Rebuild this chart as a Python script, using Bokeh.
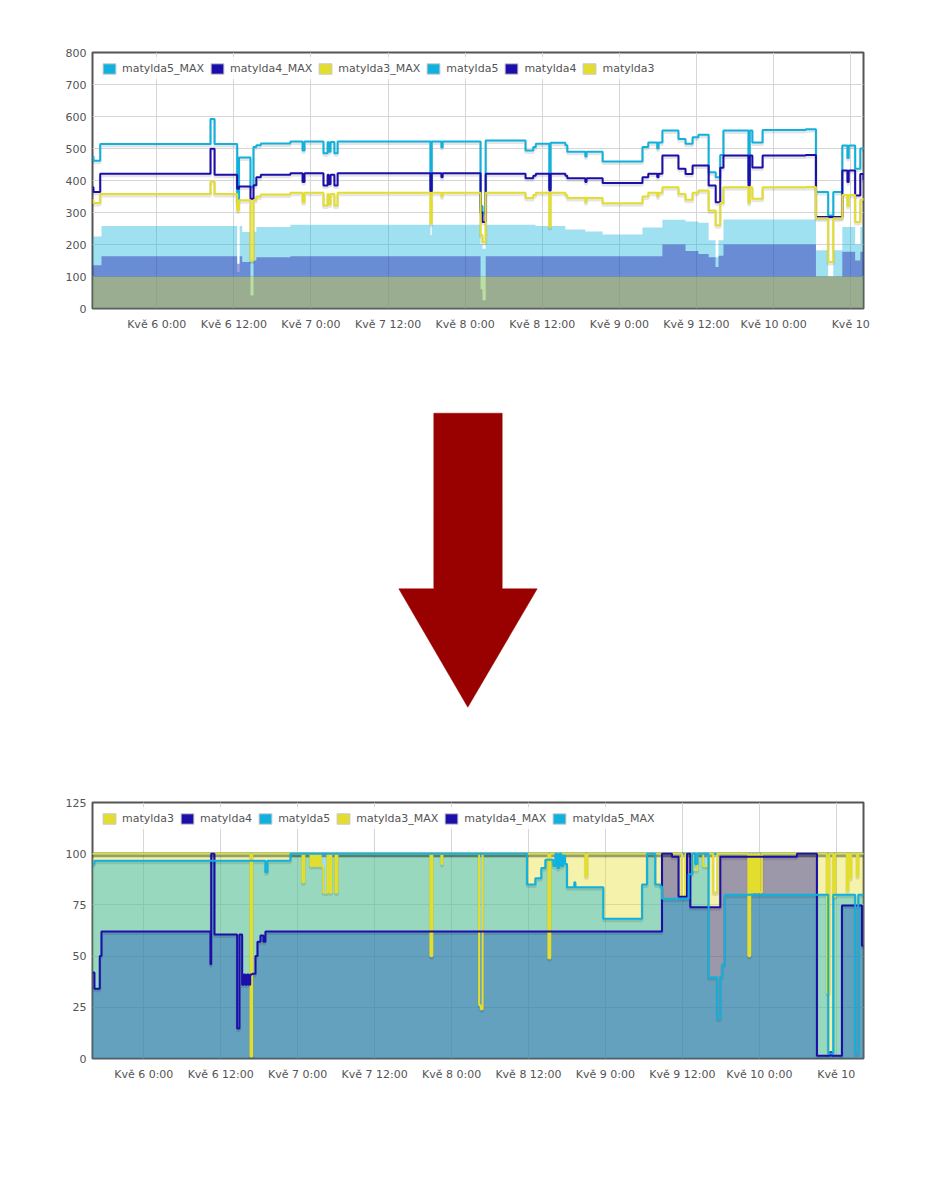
from bokeh.plotting import figure
from bokeh.layouts import column
from bokeh.models import Range1d, FixedTicker, Legend, LegendItem, ColumnDataSource
from bokeh.transform import dodge
from bokeh.embed import file_html
from bokeh.resources import INLINE

# ---------------- data (hours relative to Kvě 6 0:00) ----------------
TICK_HOURS = [0, 12, 24, 36, 48, 60, 72, 84, 96, 108]
TICK_LABELS = ["Kvě 6 0:00", "Kvě 6 12:00", "Kvě 7 0:00", "Kvě 7 12:00", "Kvě 8 0:00",
               "Kvě 8 12:00", "Kvě 9 0:00", "Kvě 9 12:00", "Kvě 10 0:00", "Kvě 10"]

TOP_X_RANGE = [-10, 110]
TOP_Y_TICKS = [0, 100, 200, 300, 400, 500, 600, 700, 800]

# top chart: MAX lines (shared time axis)
top_max_t = [-10, -9.85, -8.8, 8.37, 9.0, 12.52, 12.8, 14.59, 15.06, 15.5, 16.2, 20.8, 22.7, 23.0,
             25.95, 26.6, 26.75, 27.05, 27.65, 28.15, 42.6, 42.8, 44.3, 44.5, 50.4, 50.7, 51.2,
             57.4, 58.6, 59.0, 61.1, 61.3, 63.6, 63.9, 66.7, 66.9, 69.4, 75.6, 76.5, 77.9, 78.1,
             78.7, 81.2, 82.3, 83.4, 84.3, 85.9, 87.0, 87.7, 88.2, 92.1, 92.3, 92.7, 94.3, 101.0,
             102.6, 104.5, 105.3, 106.7, 107.5, 107.7, 108.7, 109.5, 110]
top_matylda5_max = [475, 462, 514, 592, 514, 330, 472, 380, 505, 510, 516, 522, 494, 522, 485, 520,
                    490, 520, 485, 522, 370, 522, 504, 522, 320, 300, 525, 494, 505, 515, 375, 518,
                    510, 490, 475, 490, 459, 505, 519, 500, 519, 556, 530, 515, 535, 543, 426, 410,
                    480, 556, 400, 556, 519, 558, 560, 364, 291, 364, 509, 470, 509, 437, 500, 505]
top_matylda4_max = [379, 364, 421, 499, 418, 374, 381, 343, 385, 410, 418, 423, 395, 423, 384, 418,
                    388, 418, 384, 423, 366, 423, 410, 423, 300, 270, 421, 407, 415, 421, 369, 421,
                    415, 407, 395, 407, 392, 410, 421, 410, 421, 478, 437, 420, 447, 447, 384, 332,
                    440, 478, 384, 478, 441, 478, 480, 286, 286, 286, 431, 395, 431, 353, 420, 400]
top_matylda3_max = [338, 330, 358, 397, 358, 306, 338, 150, 338, 350, 356, 362, 332, 362, 322, 358,
                    325, 358, 322, 362, 265, 362, 350, 362, 230, 208, 362, 345, 355, 362, 254, 362,
                    355, 345, 332, 345, 329, 350, 362, 350, 362, 379, 358, 340, 362, 369, 306, 260,
                    330, 379, 330, 379, 343, 379, 380, 282, 145, 282, 355, 320, 355, 270, 340, 345]

# top chart: actual values (areas)
top_area_t = [-10, -8.6, 12.52, 12.9, 13.3, 14.59, 15.06, 15.5, 20.8, 42.6, 42.8, 50.4, 50.7, 51.2,
              58.95, 63.6, 66.7, 69.4, 75.6, 78.7, 82.3, 84.3, 85.9, 86.97, 87.43, 88.2, 102.6,
              104.5, 105.3, 106.7, 108.7, 109.5, 110]
top_matylda5 = [225, 258, 114, 258, 239, 150, 240, 255, 262, 230, 262, 200, 187, 262, 258, 247, 241,
                231, 253, 277, 272, 268, 213, 160, 213, 278, 182, 100, 182, 255, 200, 255, 255]
top_matylda4 = [135, 163, 140, 163, 145, 41, 150, 160, 163, 163, 163, 60, 26, 163, 163, 163, 163,
                163, 163, 200, 180, 170, 160, 130, 165, 200, 100, 100, 100, 177, 150, 177, 177]
top_matylda3_t = [-10, 110]
top_matylda3 = [100, 100]

# bottom chart (percent)
BOT_X_RANGE = [-8, 112.25]
BOT_Y_TICKS = [0, 25, 50, 75, 100, 125]

bot_matylda3_t = [-8, 16.64, 16.9, 24.74, 25.05, 25.99, 26.2, 26.4, 26.6, 26.8, 27.0, 27.2, 27.4, 27.6,
                  28.01, 28.64, 28.96, 29.27, 29.89, 30.2, 44.7,
                  45.01, 46.41, 46.57, 52.3, 52.55, 52.85, 63.1, 63.41, 68.87, 69.18, 83.94, 84.46,
                  85.7, 86.33, 87.26, 88.09, 88.82, 89.45, 94.28, 94.59, 94.86, 95.15, 95.45, 95.75,
                  96.05, 96.41, 106.55, 106.9,
                  107.53, 107.84, 109.67, 109.87, 110.18, 110.33, 111.23, 111.43, 112.25]
bot_matylda3 = [100, 1, 100, 86, 100, 94, 100, 94, 100, 94, 100, 94, 100, 94,
                81, 100, 81, 100, 81, 100, 50,
                100, 95, 100, 26, 24, 100, 49, 100, 89, 100, 79, 100,
                92, 100, 94, 100, 81, 100, 50, 100, 81, 100, 81, 100,
                81, 100, 32, 100,
                79, 100, 82, 100, 88, 100, 89, 100, 100]
bot_matylda4_t = [-8, -7.7, -6.86, -6.6, 10.4, 10.51, 11.02, 14.56, 14.92, 15.34, 15.6, 15.85, 16.1,
                  16.35, 16.6, 16.9, 17.42, 17.73,
                  18.2, 18.66, 18.97, 80.82, 82.38, 83.41, 84.72, 85.24, 89.91, 101.87, 104.99, 107.0,
                  107.3, 108.89, 112.01, 112.25]
bot_matylda4 = [42, 34, 50, 62, 46, 100, 60.5, 14.6, 60.5, 36, 41, 36, 41, 36, 41, 41.4, 50, 57,
                60, 57, 62, 100, 98.5, 79,
                100, 73.9, 98.5, 100, 1.3, 3, 1.3, 74.7, 55, 55]
bot_matylda5_t = [-8, -7.7, 18.97, 19.29, 22.87, 59.78, 61.07, 62.0, 62.63, 63.88, 64.2, 64.5, 64.8,
                  65.1, 65.4, 65.7, 66.01,
                  67.15, 67.31, 71.67, 77.71, 78.49, 79.78, 80.56, 80.82, 84.97, 85.55, 86.0, 86.33,
                  88.09, 89.45, 89.91, 90.2, 90.58, 106.75, 107.53, 110.96, 111.43, 112.25]
bot_matylda5 = [95, 96.6, 91, 96.6, 100, 84.9, 88, 93, 97, 94, 100, 93, 100, 94, 99, 95, 83.6,
                86, 83.6, 68.2, 85, 100,
                85, 84, 78, 90, 100, 95, 100, 39.7, 19.5, 40, 46, 80, 2.4, 80, 2.4, 80, 80]
bot_max_t = [-8, 112.25]
bot_matylda3_max = [100, 100]
bot_matylda4_max = [100, 100]
bot_matylda5_max = [100, 100]

# arrow shape (page pixels)
ARROW_X = [433.3, 501.7, 501.7, 536.7, 467.3, 398.3, 433.3]
ARROW_Y = [412.7, 412.7, 588.3, 588.3, 706.7, 588.3, 588.3]

# ---------------- styling ----------------
W = 943
FONT = "DejaVu Sans"
TEXT = "#545454"
GRID = "#d6d6d6"
COLORS = {"matylda3": "#e3de2d", "matylda4": "#1b0eab", "matylda5": "#10b1dd"}
FRAME_H = 256
FRAME_LEFT = 92
FRAME_RIGHT = 80


def make_chart(height, border_top, x_range, y_ticks, areas, lines, legend_names):
    border_bottom = height - border_top - FRAME_H
    p = figure(width=W, height=height, x_range=Range1d(*x_range),
               y_range=Range1d(y_ticks[0], y_ticks[-1]),
               output_backend="svg", toolbar_location=None,
               min_border_left=FRAME_LEFT, min_border_right=FRAME_RIGHT,
               min_border_top=border_top, min_border_bottom=border_bottom)
    p.background_fill_color = "white"
    p.border_fill_color = "white"
    p.outline_line_color = "#555555"
    p.outline_line_width = 2

    xt = FixedTicker(ticks=TICK_HOURS)
    yt = FixedTicker(ticks=y_ticks)
    p.xaxis.ticker = xt
    p.yaxis.ticker = yt
    p.xgrid.ticker = xt
    p.ygrid.ticker = yt
    p.xaxis.major_label_overrides = {h: lab for h, lab in zip(TICK_HOURS, TICK_LABELS)}
    for ax in (p.xaxis, p.yaxis):
        ax.axis_line_color = None
        ax.major_tick_line_color = None
        ax.minor_tick_line_color = None
        ax.major_tick_in = 0
        ax.major_tick_out = 0
        ax.minor_tick_in = 0
        ax.minor_tick_out = 0
        ax.major_label_text_font = FONT
        ax.major_label_text_font_size = "11px"
        ax.major_label_text_color = TEXT
    p.xaxis.major_label_standoff = 9
    p.yaxis.major_label_standoff = 6
    p.grid.grid_line_color = GRID
    p.grid.grid_line_width = 1

    unit_per_px = (y_ticks[-1] - y_ticks[0]) / FRAME_H

    for name, t, v in areas:
        src = ColumnDataSource(dict(x=t, y=v))
        p.varea_step(x="x", y1=0, y2="y", step_mode="after", source=src,
                     fill_color=COLORS[name], fill_alpha=0.4)
    # shadows
    for name, t, v in lines:
        src = ColumnDataSource(dict(x=t, y=v))
        p.step(x="x", y=dodge("y", -2 * unit_per_px), mode="after", source=src,
               line_color="black", line_alpha=0.1, line_width=3)
    for name, t, v in lines:
        src = ColumnDataSource(dict(x=t, y=v))
        p.step(x="x", y="y", mode="after", source=src,
               line_color=COLORS[name], line_width=2)

    # legend swatches: zero-size quads placed at the chart origin
    x0 = x_range[0]
    items = []
    for lab in legend_names:
        base = lab.replace("_MAX", "")
        r = p.quad(left=[x0], right=[x0], top=[y_ticks[0]], bottom=[y_ticks[0]],
                   fill_color=COLORS[base], line_color="#c8c8c8", line_width=1,
                   line_alpha=1.0)
        items.append(LegendItem(label=lab, renderers=[r]))
    leg = Legend(items=items, orientation="horizontal", location="top_left",
                 label_text_font=FONT, label_text_font_size="11px", label_text_color=TEXT,
                 glyph_width=16, glyph_height=13, label_standoff=5, spacing=5,
                 padding=4, margin=5, background_fill_color="white",
                 background_fill_alpha=0.85, border_line_alpha=0,
                 label_height=14)
    p.add_layout(leg)
    return p


top = make_chart(
    370, 52, TOP_X_RANGE, TOP_Y_TICKS,
    areas=[("matylda5", top_area_t, top_matylda5),
           ("matylda4", top_area_t, top_matylda4),
           ("matylda3", top_matylda3_t, top_matylda3)],
    lines=[("matylda5", top_max_t, top_matylda5_max),
           ("matylda4", top_max_t, top_matylda4_max),
           ("matylda3", top_max_t, top_matylda3_max)],
    legend_names=["matylda5_MAX", "matylda4_MAX", "matylda3_MAX", "matylda5", "matylda4", "matylda3"])

# arrow figure: its frame is aligned with the charts' frames (x 92..863 on the page)
arrow = figure(width=W, height=390, x_range=Range1d(FRAME_LEFT, W - FRAME_RIGHT),
               y_range=Range1d(760, 370),
               x_axis_location=None, y_axis_location=None, output_backend="svg",
               toolbar_location=None, min_border_left=FRAME_LEFT, min_border_right=FRAME_RIGHT,
               min_border_top=0, min_border_bottom=0)
arrow.grid.visible = False
arrow.outline_line_color = None
arrow.patch(ARROW_X, ARROW_Y, fill_color="#990000", line_color="#990000", line_width=0.5)

bottom = make_chart(
    421, 42, BOT_X_RANGE, BOT_Y_TICKS,
    areas=[("matylda3", bot_matylda3_t, bot_matylda3),
           ("matylda4", bot_matylda4_t, bot_matylda4),
           ("matylda5", bot_matylda5_t, bot_matylda5)],
    lines=[("matylda3", bot_max_t, bot_matylda3_max),
           ("matylda4", bot_max_t, bot_matylda4_max),
           ("matylda5", bot_max_t, bot_matylda5_max),
           ("matylda3", bot_matylda3_t, bot_matylda3),
           ("matylda4", bot_matylda4_t, bot_matylda4),
           ("matylda5", bot_matylda5_t, bot_matylda5)],
    legend_names=["matylda3", "matylda4", "matylda5", "matylda3_MAX", "matylda4_MAX", "matylda5_MAX"])

layout = column(top, arrow, bottom, spacing=0)
open("out.html", "w").write(file_html(layout, INLINE))
